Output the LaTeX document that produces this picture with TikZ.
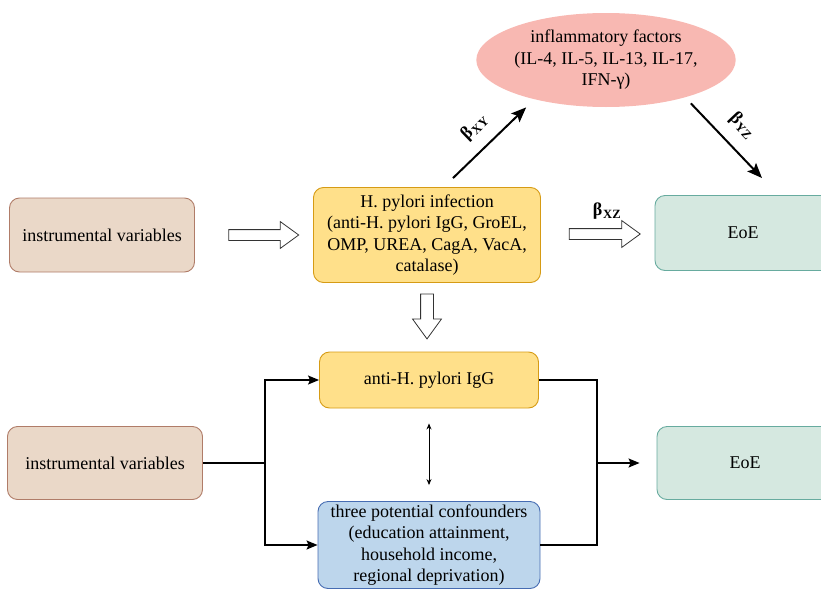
\documentclass[tikz,border=0pt]{standalone}
\usepackage{fontspec}
\setmainfont{Liberation Serif}
\usetikzlibrary{positioning, arrows.meta, shapes.geometric, shapes.arrows}
\definecolor{ivfill}{RGB}{234,216,200}
\definecolor{ivline}{RGB}{176,124,104}
\definecolor{hpfill}{RGB}{255,224,138}
\definecolor{hpline}{RGB}{214,155,20}
\definecolor{eoefill}{RGB}{213,232,224}
\definecolor{eoeline}{RGB}{103,171,159}
\definecolor{inffill}{RGB}{248,184,178}
\definecolor{conffill}{RGB}{189,214,236}
\definecolor{confline}{RGB}{70,108,178}

\begin{document}
\begin{tikzpicture}[x=1pt, y=-1pt, font=\fontsize{18}{21.5}\selectfont,
  box/.style={rounded corners=10pt, line width=0.9pt, align=center, inner sep=0pt},
  iv/.style={box, draw=ivline, fill=ivfill, minimum width=185pt, minimum height=74pt},
  hp/.style={box, draw=hpline, fill=hpfill},
  eoe/.style={box, draw=eoeline, fill=eoefill, minimum width=176pt, minimum height=75pt},
  conf/.style={box, draw=confline, fill=conffill, minimum width=222pt, minimum height=87pt},
  inf/.style={ellipse, fill=inffill, align=center, inner sep=0pt, minimum width=212pt, minimum height=94pt},
  hollow/.style={single arrow, draw=black!80, fill=white, line width=0.8pt, inner sep=0pt, inner ysep=5pt,
    single arrow head extend=8pt, single arrow tip angle=72, minimum height=70pt},
  beta/.style={-{Stealth[length=15pt, width=12pt, inset=3pt]}, line width=2pt},
  ar/.style={-{Stealth[length=11pt, width=9pt, inset=2pt]}, line width=1.3pt},
  ln/.style={line width=1.3pt},
  both/.style={{Stealth[length=6pt, width=5pt]}-{Stealth[length=6pt, width=5pt]}, line width=0.8pt}]

\useasboundingbox (0,0) rectangle (821,589);
\clip (0,0) rectangle (821,589);

% upper panel: two-step MR
\node[iv] (iv1) at (102,235) {instrumental variables};
\node[hollow] (a1) at (260,235) {};
\node[hp, minimum width=227pt, minimum height=95pt] (hp) at (427,235)
  {H. pylori infection\\(anti-H. pylori IgG, GroEL,\\OMP, UREA, CagA, VacA,\\catalase)};
\node[hollow, minimum height=71pt] (a2) at (601,234) {};
\node (bxz) at (607,211) {\textbf{β\kern1pt\textsubscript{XZ}}};
\node[eoe] (eoe1) at (743,233) {EoE};
\node[inf] (inf) at (606,60) {inflammatory factors\\(IL-4, IL-5, IL-13, IL-17,\\IFN-γ)};

% mediation arrows
\draw[beta] ([shift={(26,-9)}]hp.north) -- node[sloped, above=9pt] {\textbf{β\kern1pt\textsubscript{XY}}} ([shift={(12,14)}]inf.south west);
\draw[beta] ([shift={(-7,10)}]inf.south east) -- node[sloped, above=9pt] {\textbf{β\kern1pt\textsubscript{YZ}}} ([shift={(19,-17)}]eoe1.north);

% down to the lower panel
\node[hollow, rotate=-90, minimum height=45pt, inner ysep=6pt] (a3) at (427,312) {};

% lower panel: multivariable MR
\node[iv, minimum width=195pt, minimum height=73pt] (iv2) at (105,463) {instrumental variables};
\node[hp, minimum width=219pt, minimum height=56pt] (igg) at (429,380) {anti-H. pylori IgG};
\node[conf] (conf) at (429,545) {three potential confounders\\(education attainment,\\household income,\\regional deprivation)};
\node[eoe, minimum height=73pt] (eoe2) at (745,463) {EoE};
\coordinate (split) at (265,463);
\coordinate (merge) at (597,463);

\draw[ln] (iv2.east) -- (split);
\draw[ar] (split) |- (igg.west);
\draw[ar] (split) |- (conf.west);
\draw[both] (igg.south) ++(0,15) -- ([shift={(0,-16)}]conf.north);
\draw[ln] (igg.east) -| (merge);
\draw[ln] (conf.east) -| (merge);
\draw[ar, shorten >=17pt] (merge) -- (eoe2.west);
\end{tikzpicture}
\end{document}
